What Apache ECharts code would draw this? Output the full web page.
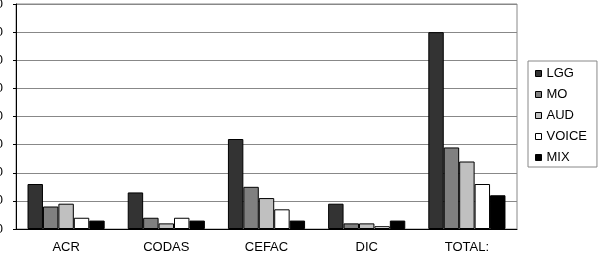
<!DOCTYPE html>
<html>
<head>
<meta charset="utf-8">
<script src="https://cdn.jsdelivr.net/npm/echarts@6/dist/echarts.min.js"></script>
<style>
  html, body { margin: 0; padding: 0; background: #fff; }
  #main { width: 600px; height: 256px; }
</style>
</head>
<body>
<div id="main"></div>
<script>
var categories = ["ACR", "CODAS", "CEFAC", "DIC", "TOTAL:"];
var lggData = [16, 13, 32, 9, 70];
var moData = [8, 4, 15, 2, 29];
var audData = [9, 2, 11, 2, 24];
var voiceData = [4, 4, 7, 1, 16];
var mixData = [3, 3, 3, 3, 12];

var seriesNames = ["LGG", "MO", "AUD", "VOICE", "MIX"];
var seriesColors = ["#333333", "#808080", "#c0c0c0", "#ffffff", "#000000"];
var seriesData = [lggData, moData, audData, voiceData, mixData];

var series = seriesNames.map(function (name, i) {
  return {
    name: name,
    type: "bar",
    data: seriesData[i],
    barGap: "0%",
    barCategoryGap: "23%",
    itemStyle: { color: seriesColors[i], borderColor: "#000", borderWidth: 1 },
  };
});

var option = {
  animation: false,
  textStyle: { fontFamily: "Liberation Sans, Arial, sans-serif" },
  legend: {
    data: seriesNames,
    orient: "vertical",
    left: 528,
    top: 61,
    padding: [6, 10, 3, 7],
    borderColor: "#888",
    borderWidth: 1,
    itemWidth: 6,
    itemHeight: 6,
    itemGap: 8,
    icon: "rect",
    itemStyle: { borderColor: "#000", borderWidth: 1 },
    textStyle: { fontSize: 13, color: "#000" },
  },
  grid: {
    left: 16,
    right: 83,
    top: 4,
    bottom: 27,
    containLabel: false,
    outerBoundsMode: "none",
    show: true,
    borderColor: "#888",
    borderWidth: 1,
  },
  xAxis: {
    type: "category",
    data: categories,
    axisLine: { lineStyle: { color: "#000" } },
    axisTick: { length: 4, lineStyle: { color: "#000" } },
    axisLabel: { fontSize: 13, color: "#000", margin: 12 },
  },
  yAxis: {
    type: "value",
    min: 0,
    max: 80,
    interval: 10,
    axisLine: { show: true, lineStyle: { color: "#000" } },
    axisTick: { show: true, length: 3, lineStyle: { color: "#000" } },
    axisLabel: { fontSize: 13, color: "#000", margin: 13 },
    splitLine: { lineStyle: { color: "#888" } },
  },
  series: series,
};

var myChart = echarts.init(document.getElementById("main"));
myChart.setOption(option);
</script>
</body>
</html>
